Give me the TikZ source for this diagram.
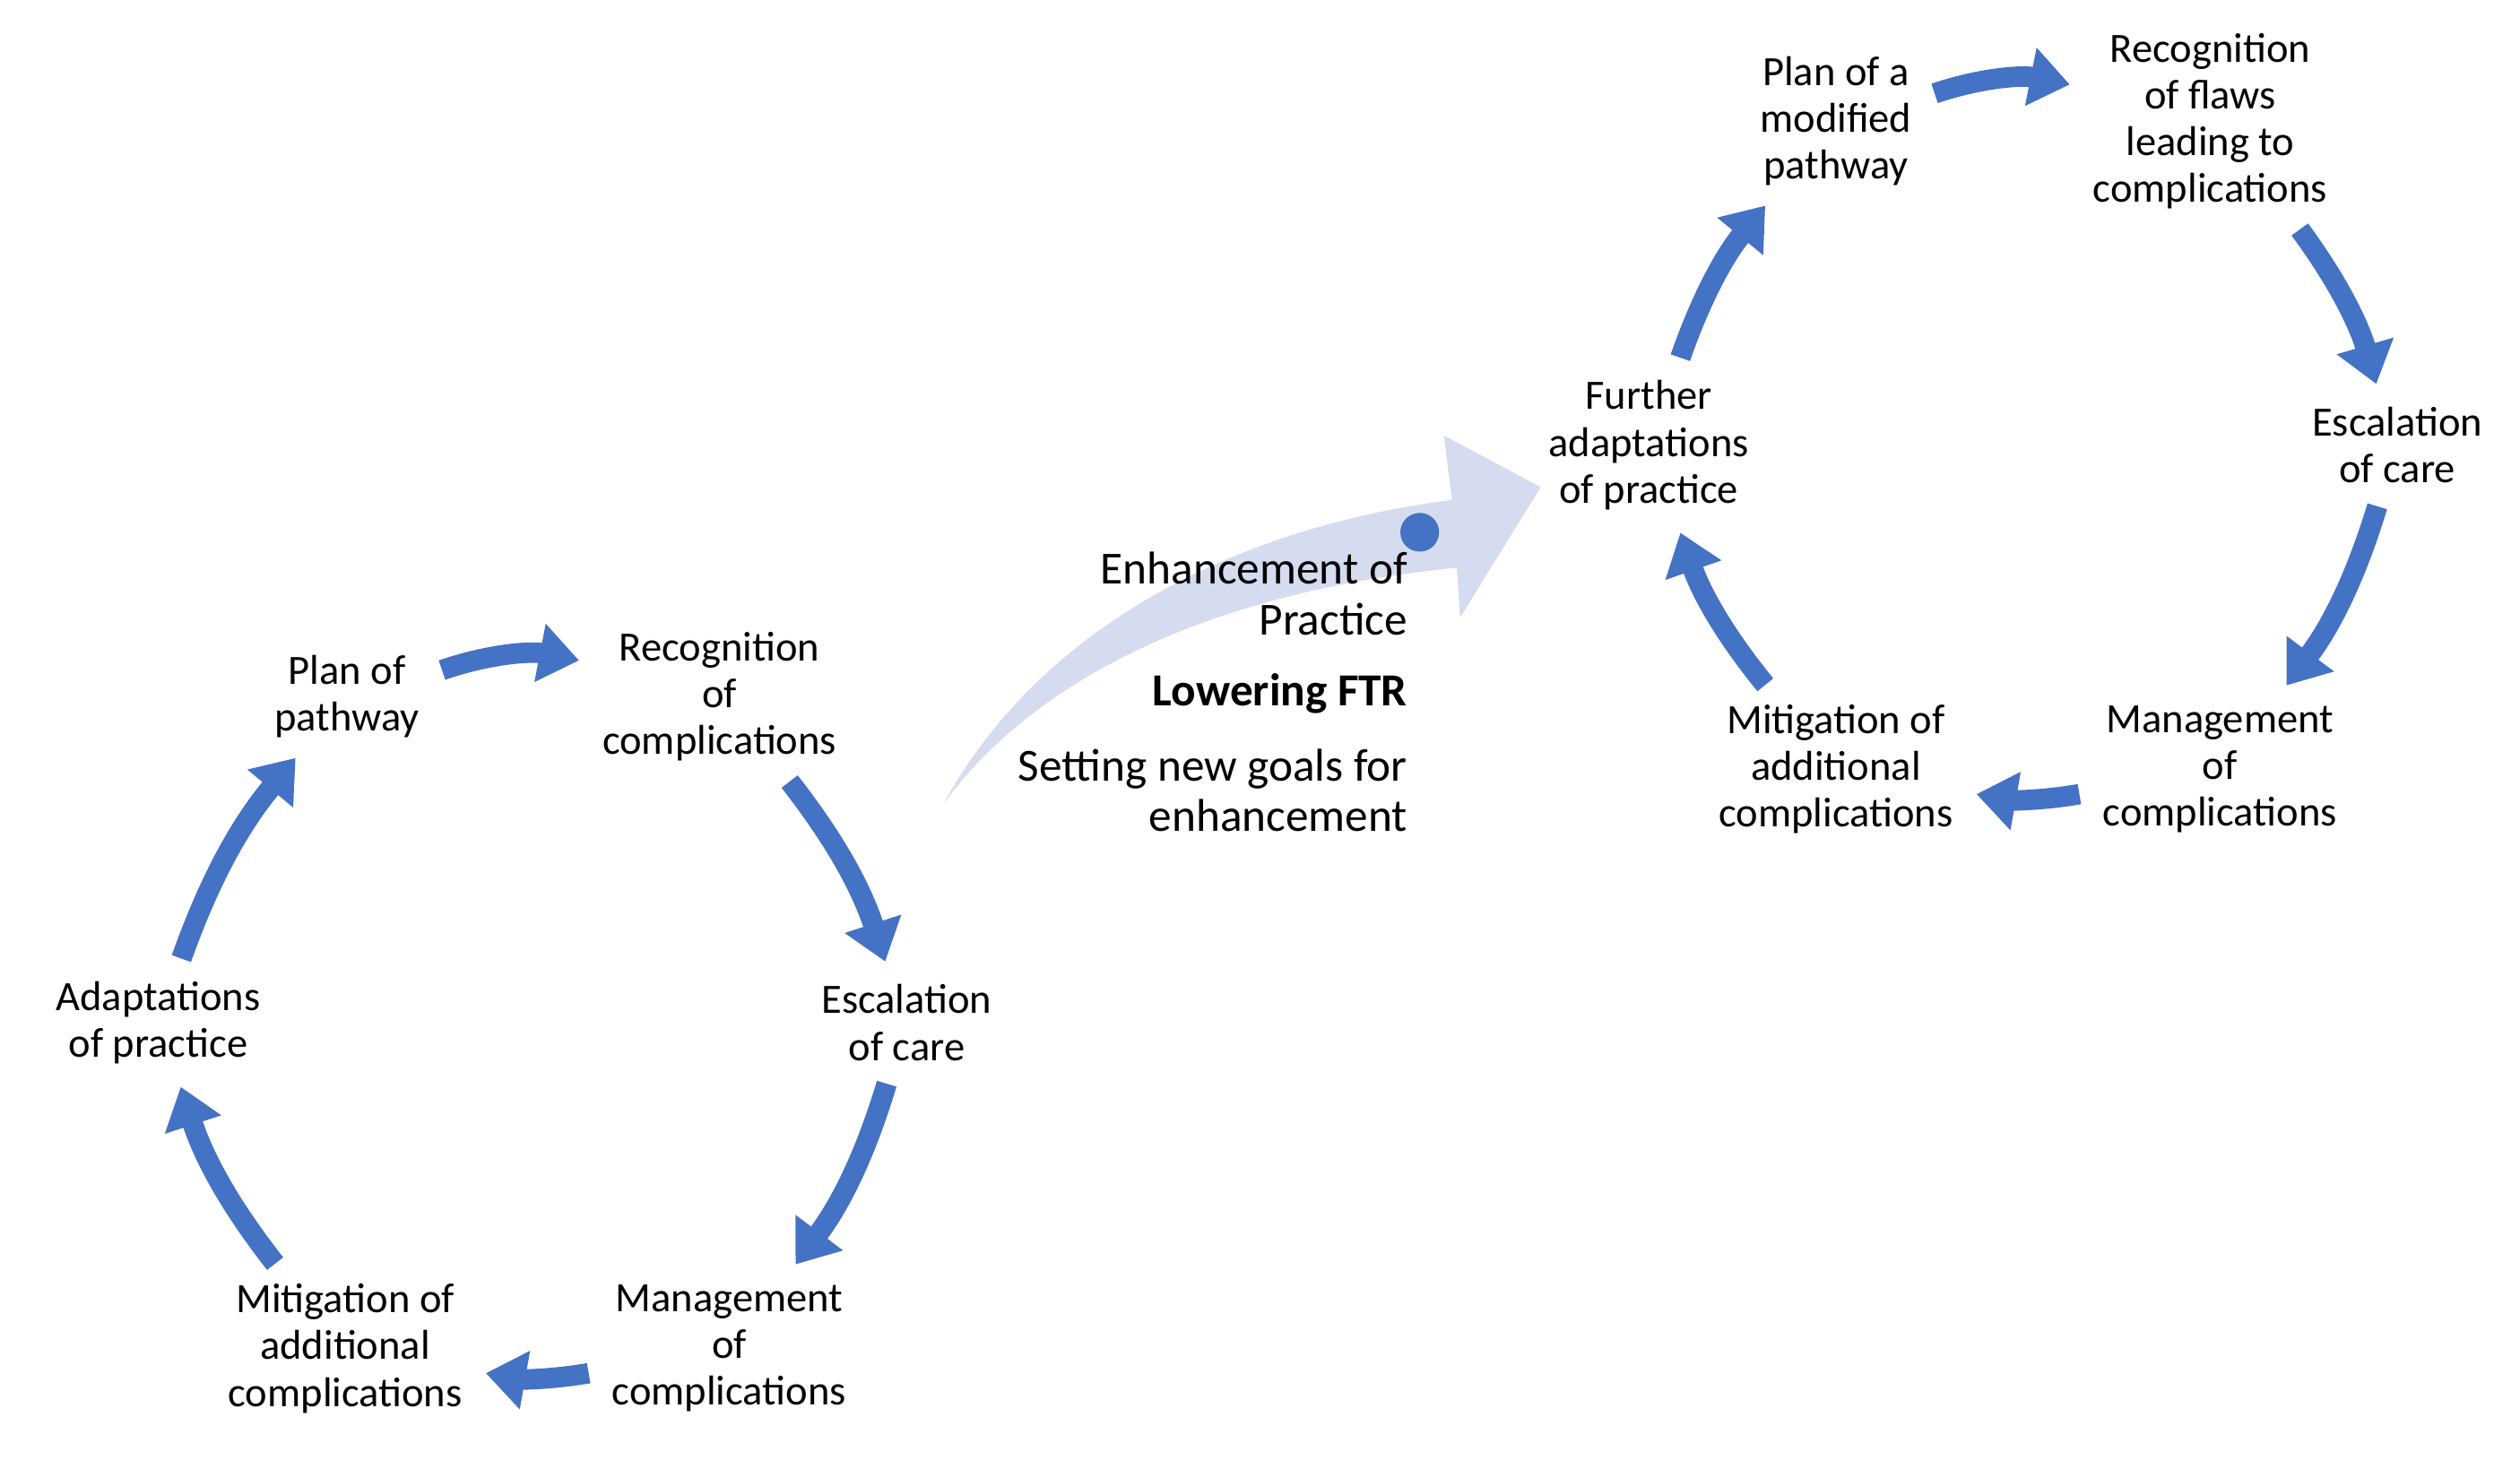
\documentclass[tikz,border=0pt]{standalone}
\usepackage{fontspec}
\setmainfont{Carlito}
\usetikzlibrary{arrows.meta,positioning}
\definecolor{cycblue}{RGB}{68,114,196}
\definecolor{lavender}{RGB}{214,220,240}
\begin{document}
\begin{tikzpicture}[x=0.01cm,y=-0.01cm,
    phase/.style={align=center,font=\fontsize{7.35}{8.25}\selectfont,inner sep=1pt},
    cyc/.style={draw=cycblue,line width=3.6pt,shorten <=3pt,shorten >=3pt,
      -{Triangle[width=10pt,length=7pt]}},
    note/.style={anchor=east,font=\fontsize{8.1}{8.9}\selectfont,inner sep=0pt}]
    \useasboundingbox (0,0) rectangle (1562,905);

    %Transition arrow
    \fill[lavender] (585,498) .. controls (650,380) and (780,325) .. (900,310)
      -- (895,270) -- (955,302) -- (905,383) -- (903,352)
      .. controls (770,365) and (650,410) .. (585,498) -- cycle;
    \node[circle,fill=cycblue,inner sep=0pt,minimum size=0.24cm] (dot) at (880,330) {};
    \node[note,align=right] (enh) at (873,368) {Enhancement of\\Practice};
    \node[note] (ftr) at (873,430) {\bfseries Lowering FTR};
    \node[note,align=right] (goals) at (873,490) {Setting new goals for\\enhancement};

    %Cycle 1
    \begin{scope}[every node/.style={phase}]
      \node (plan) at (215,432) {Plan of\\pathway};
      \node (rec) at (446,432) {Recognition\\of\\complications};
      \node (esc) at (562,634) {Escalation\\of care};
      \node (man) at (452,836) {Management\\of\\complications};
      \node (mit) at (214,836) {Mitigation of\\additional\\complications};
      \node (ada) at (98,634) {Adaptations\\of practice};
    \end{scope}
    \begin{scope}[every edge/.style={cyc}]
      \path (plan) edge[bend left=15] (rec);
      \path (rec) edge[bend left=10] (esc);
      \path (esc) edge[bend left=10] (man);
      \path (man) edge[bend left=10] (mit);
      \path (mit) edge[bend left=10] (ada);
      \path (ada) edge[bend left=10] (plan);
    \end{scope}

    %Cycle 2
    \begin{scope}[every node/.style={phase}]
      \node (plan2) at (1138,75) {Plan of a\\modified\\pathway};
      \node (rec2) at (1370,75) {Recognition\\of flaws\\leading to\\complications};
      \node (esc2) at (1486,276) {Escalation\\of care};
      \node (man2) at (1376,477) {Management\\of\\complications};
      \node (mit2) at (1138,477) {Mitigation of\\additional\\complications};
      \node (ada2) at (1022,276) {Further\\adaptations\\of practice};
    \end{scope}
    \begin{scope}[every edge/.style={cyc}]
      \path (plan2) edge[bend left=15] (rec2);
      \path (rec2) edge[bend left=10] (esc2);
      \path (esc2) edge[bend left=10] (man2);
      \path (man2) edge[bend left=10] (mit2);
      \path (mit2) edge[bend left=10] (ada2);
      \path (ada2) edge[bend left=10] (plan2);
    \end{scope}
\end{tikzpicture}
\end{document}
